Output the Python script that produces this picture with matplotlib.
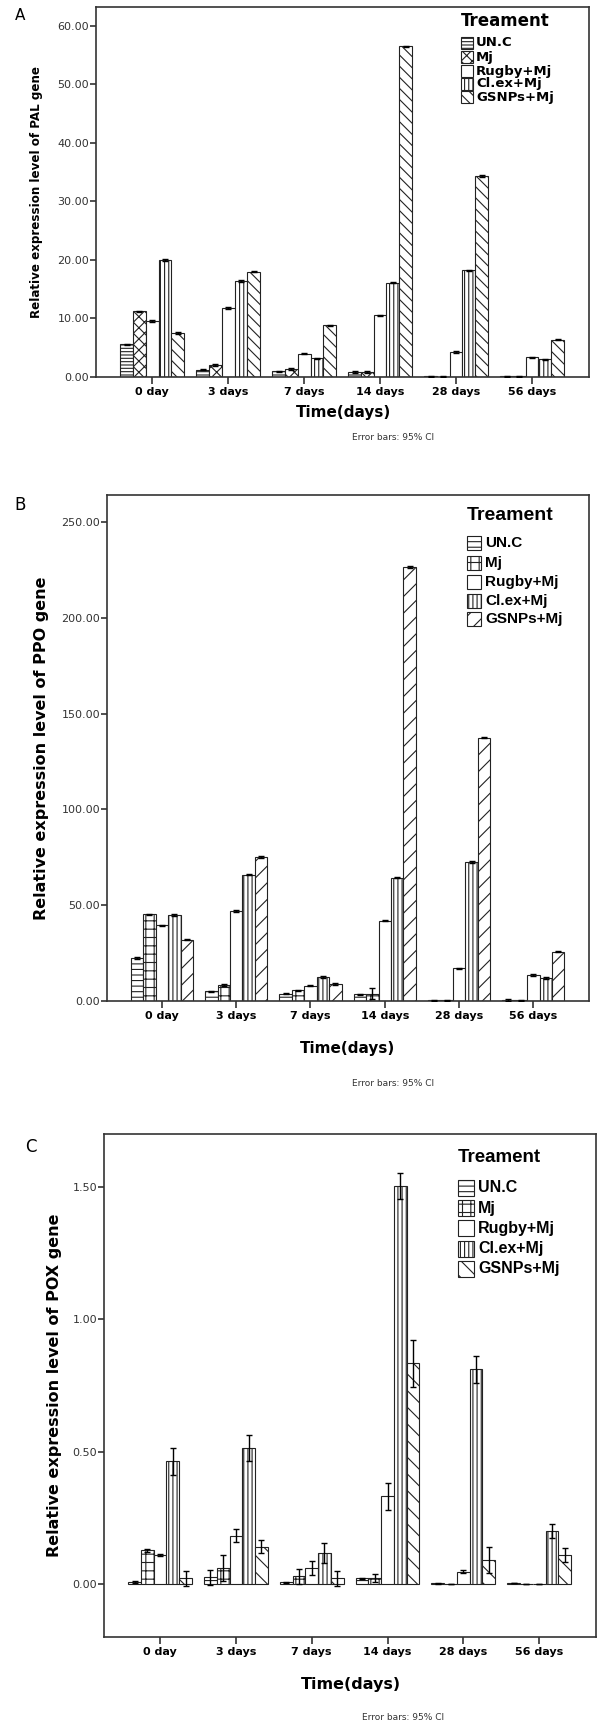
import matplotlib
matplotlib.use("Agg")
import matplotlib.pyplot as plt
import numpy as np
from matplotlib.patches import Rectangle

plt.rcParams['font.family'] = 'DejaVu Sans'
plt.rcParams['hatch.linewidth'] = 0.8

# categories / treatments
days = ["0 day", "3 days", "7 days", "14 days", "28 days", "56 days"]
treatments = ["UN.C", "Mj", "Rugby+Mj", "Cl.ex+Mj", "GSNPs+Mj"]

# PAL (panel A)
pal_unc = [5.6, 1.25, 0.97, 0.86, 0.10, 0.10]
pal_mj = [11.2, 2.05, 1.37, 0.86, 0.05, 0.10]
pal_rugby = [9.6, 11.8, 4.0, 10.55, 4.28, 3.4]
pal_clex = [20.0, 16.4, 3.2, 16.1, 18.2, 3.0]
pal_gsnps = [7.5, 18.0, 8.84, 56.5, 34.3, 6.4]
pal_err = [0.12, 0.12, 0.1, 0.1, 0.12, 0.1]

# PPO (panel B)
ppo_unc = [22.4, 5.0, 3.8, 3.4, 0.3, 0.4]
ppo_mj = [45.2, 8.4, 5.6, 3.8, 0.3, 0.4]
ppo_rugby = [39.4, 47.0, 8.0, 42.0, 17.0, 13.6]
ppo_clex = [45.0, 66.0, 12.6, 64.4, 72.6, 12.0]
ppo_gsnps = [32.0, 75.0, 8.8, 226.4, 137.4, 25.8]
ppo_err = [0.4, 0.4, 0.4, 0.4, 0.4, 0.4]
ppo_mj_err = [0.4, 0.4, 0.4, 3.0, 0.2, 0.2]

# POX (panel C)
pox_unc = [0.007, 0.026, 0.006, 0.021, 0.003, 0.004]
pox_mj = [0.127, 0.061, 0.030, 0.023, 0.000, 0.001]
pox_rugby = [0.109, 0.182, 0.061, 0.331, 0.047, 0.000]
pox_clex = [0.463, 0.513, 0.117, 1.503, 0.811, 0.200]
pox_gsnps = [0.021, 0.141, 0.021, 0.834, 0.090, 0.110]
pox_unc_err = [0.004, 0.028, 0.003, 0.003, 0.001, 0.001]
pox_mj_err = [0.005, 0.050, 0.028, 0.015, 0.001, 0.001]
pox_rugby_err = [0.004, 0.025, 0.025, 0.050, 0.005, 0.001]
pox_clex_err = [0.050, 0.050, 0.038, 0.050, 0.050, 0.025]
pox_gsnps_err = [0.027, 0.025, 0.027, 0.088, 0.050, 0.025]

W, H = 608, 1732
fig = plt.figure(figsize=(W / 100, H / 100), dpi=100)
EDGE = '#222222'
FRAME = '#333333'


def axes_px(l, t, r, b):
    return fig.add_axes([l / W, 1 - b / H, (r - l) / W, (b - t) / H])


def ftext(x, y, s, **kw):
    fig.text(x / W, 1 - y / H, s, **kw)


def draw_panel(box, series, errs, hatches, ylim, yticks, ylabel, lab_font):
    ax = axes_px(*box)
    x = np.arange(len(days))
    w = 0.168
    for i, (vals, err) in enumerate(zip(series, errs)):
        ax.bar(x + (i - 2) * w, vals, w, color='white', edgecolor=EDGE,
               linewidth=0.8, hatch=hatches[i], zorder=2)
        ax.errorbar(x + (i - 2) * w, vals, yerr=err, fmt='none', ecolor='black',
                    elinewidth=1.0, capsize=2, capthick=1.0, zorder=3)
    ax.set_xlim(-0.74, 5.75)
    ax.set_ylim(*ylim)
    ax.set_yticks(yticks)
    ax.set_yticklabels([f"{v:.2f}" for v in yticks], fontsize=8, color='#333333')
    ax.set_xticks(x)
    ax.set_xticklabels(days, fontsize=8, fontweight='bold')
    ax.tick_params(axis='y', length=4, width=1.2, color=FRAME, pad=1)
    ax.tick_params(axis='x', length=5, width=1.2, color=FRAME, pad=2)
    for sp in ax.spines.values():
        sp.set_color(FRAME)
        sp.set_linewidth(1.2)
    ax.set_ylabel(ylabel, fontweight='bold', **lab_font)
    return ax


def draw_legend(x0, y_title, ys, title_kw, entry_kw, hatches, pw, ph, tx):
    ftext(x0, y_title, "Treament", ha='left', va='center', fontweight='bold', **title_kw)
    for yy, name, hh in zip(ys, treatments, hatches):
        r = Rectangle((x0 / W, 1 - (yy + ph / 2) / H), pw / W, ph / H,
                      transform=fig.transFigure, facecolor='white',
                      edgecolor=EDGE, linewidth=0.8, hatch=hh)
        fig.add_artist(r)
        ftext(tx, yy, name, ha='left', va='center', fontweight='bold', **entry_kw)


# ---- Panel A ----
hatch_a = ['-----', 'xxx', '', '||||', '\\\\\\']
ax_a = draw_panel((96, 7, 589, 377),
                  [pal_unc, pal_mj, pal_rugby, pal_clex, pal_gsnps],
                  [pal_err] * 5, hatch_a, (0, 63.2), [0, 10, 20, 30, 40, 50, 60],
                  "Relative expression level of PAL gene", dict(fontsize=8.6))
ax_a.yaxis.set_label_coords(-0.108, 0.5)
draw_legend(461, 21, [43, 57, 71, 84, 97], dict(fontsize=12), dict(fontsize=9.5),
            hatch_a, 12, 11, 476)
ftext(20, 15, "A", ha='center', va='center', fontsize=11)
ftext(343, 412, "Time(days)", ha='center', va='center', fontsize=11, fontweight='bold')
ftext(393, 437, "Error bars: 95% CI", ha='center', va='center', fontsize=6.5, color='#333333')

# ---- Panel B ----
hatch_b = ['---', '++', '', '||||', '//']
ax_b = draw_panel((107, 495, 589, 1001),
                  [ppo_unc, ppo_mj, ppo_rugby, ppo_clex, ppo_gsnps],
                  [ppo_err, ppo_mj_err, ppo_err, ppo_err, ppo_err], hatch_b,
                  (0, 264), [0, 50, 100, 150, 200, 250],
                  "Relative expression level of PPO gene", dict(fontsize=11.5))
ax_b.yaxis.set_label_coords(-0.12, 0.5)
draw_legend(467, 515, [543, 563, 582, 601, 619],
            dict(fontsize=14, family='Liberation Sans'),
            dict(fontsize=11, family='Liberation Sans'), hatch_b, 14, 14, 485)
ftext(20, 505, "B", ha='center', va='center', fontsize=12)
ftext(348, 1048, "Time(days)", ha='center', va='center', fontsize=11, fontweight='bold')
ftext(393, 1083, "Error bars: 95% CI", ha='center', va='center', fontsize=6.5, color='#333333')

# ---- Panel C ----
hatch_c = ['---', '++', '', '||||', '\\\\']
ax_c = draw_panel((104, 1134, 596, 1637),
                  [pox_unc, pox_mj, pox_rugby, pox_clex, pox_gsnps],
                  [pox_unc_err, pox_mj_err, pox_rugby_err, pox_clex_err, pox_gsnps_err],
                  hatch_c, (-0.2, 1.70), [0.0, 0.5, 1.0, 1.5],
                  "Relative expression level of POX gene", dict(fontsize=11.5))
ax_c.yaxis.set_label_coords(-0.085, 0.5)
draw_legend(458, 1158, [1188, 1208, 1228, 1249, 1269],
            dict(fontsize=13.5, family='Liberation Sans'),
            dict(fontsize=11.5, family='Liberation Sans'), hatch_c, 16, 16, 478)
ftext(31, 1147, "C", ha='center', va='center', fontsize=12)
ftext(351, 1685, "Time(days)", ha='center', va='center', fontsize=11.5, fontweight='bold')
ftext(403, 1718, "Error bars: 95% CI", ha='center', va='center', fontsize=6.5, color='#333333')

fig.savefig("out.png", dpi=100, facecolor='white')
